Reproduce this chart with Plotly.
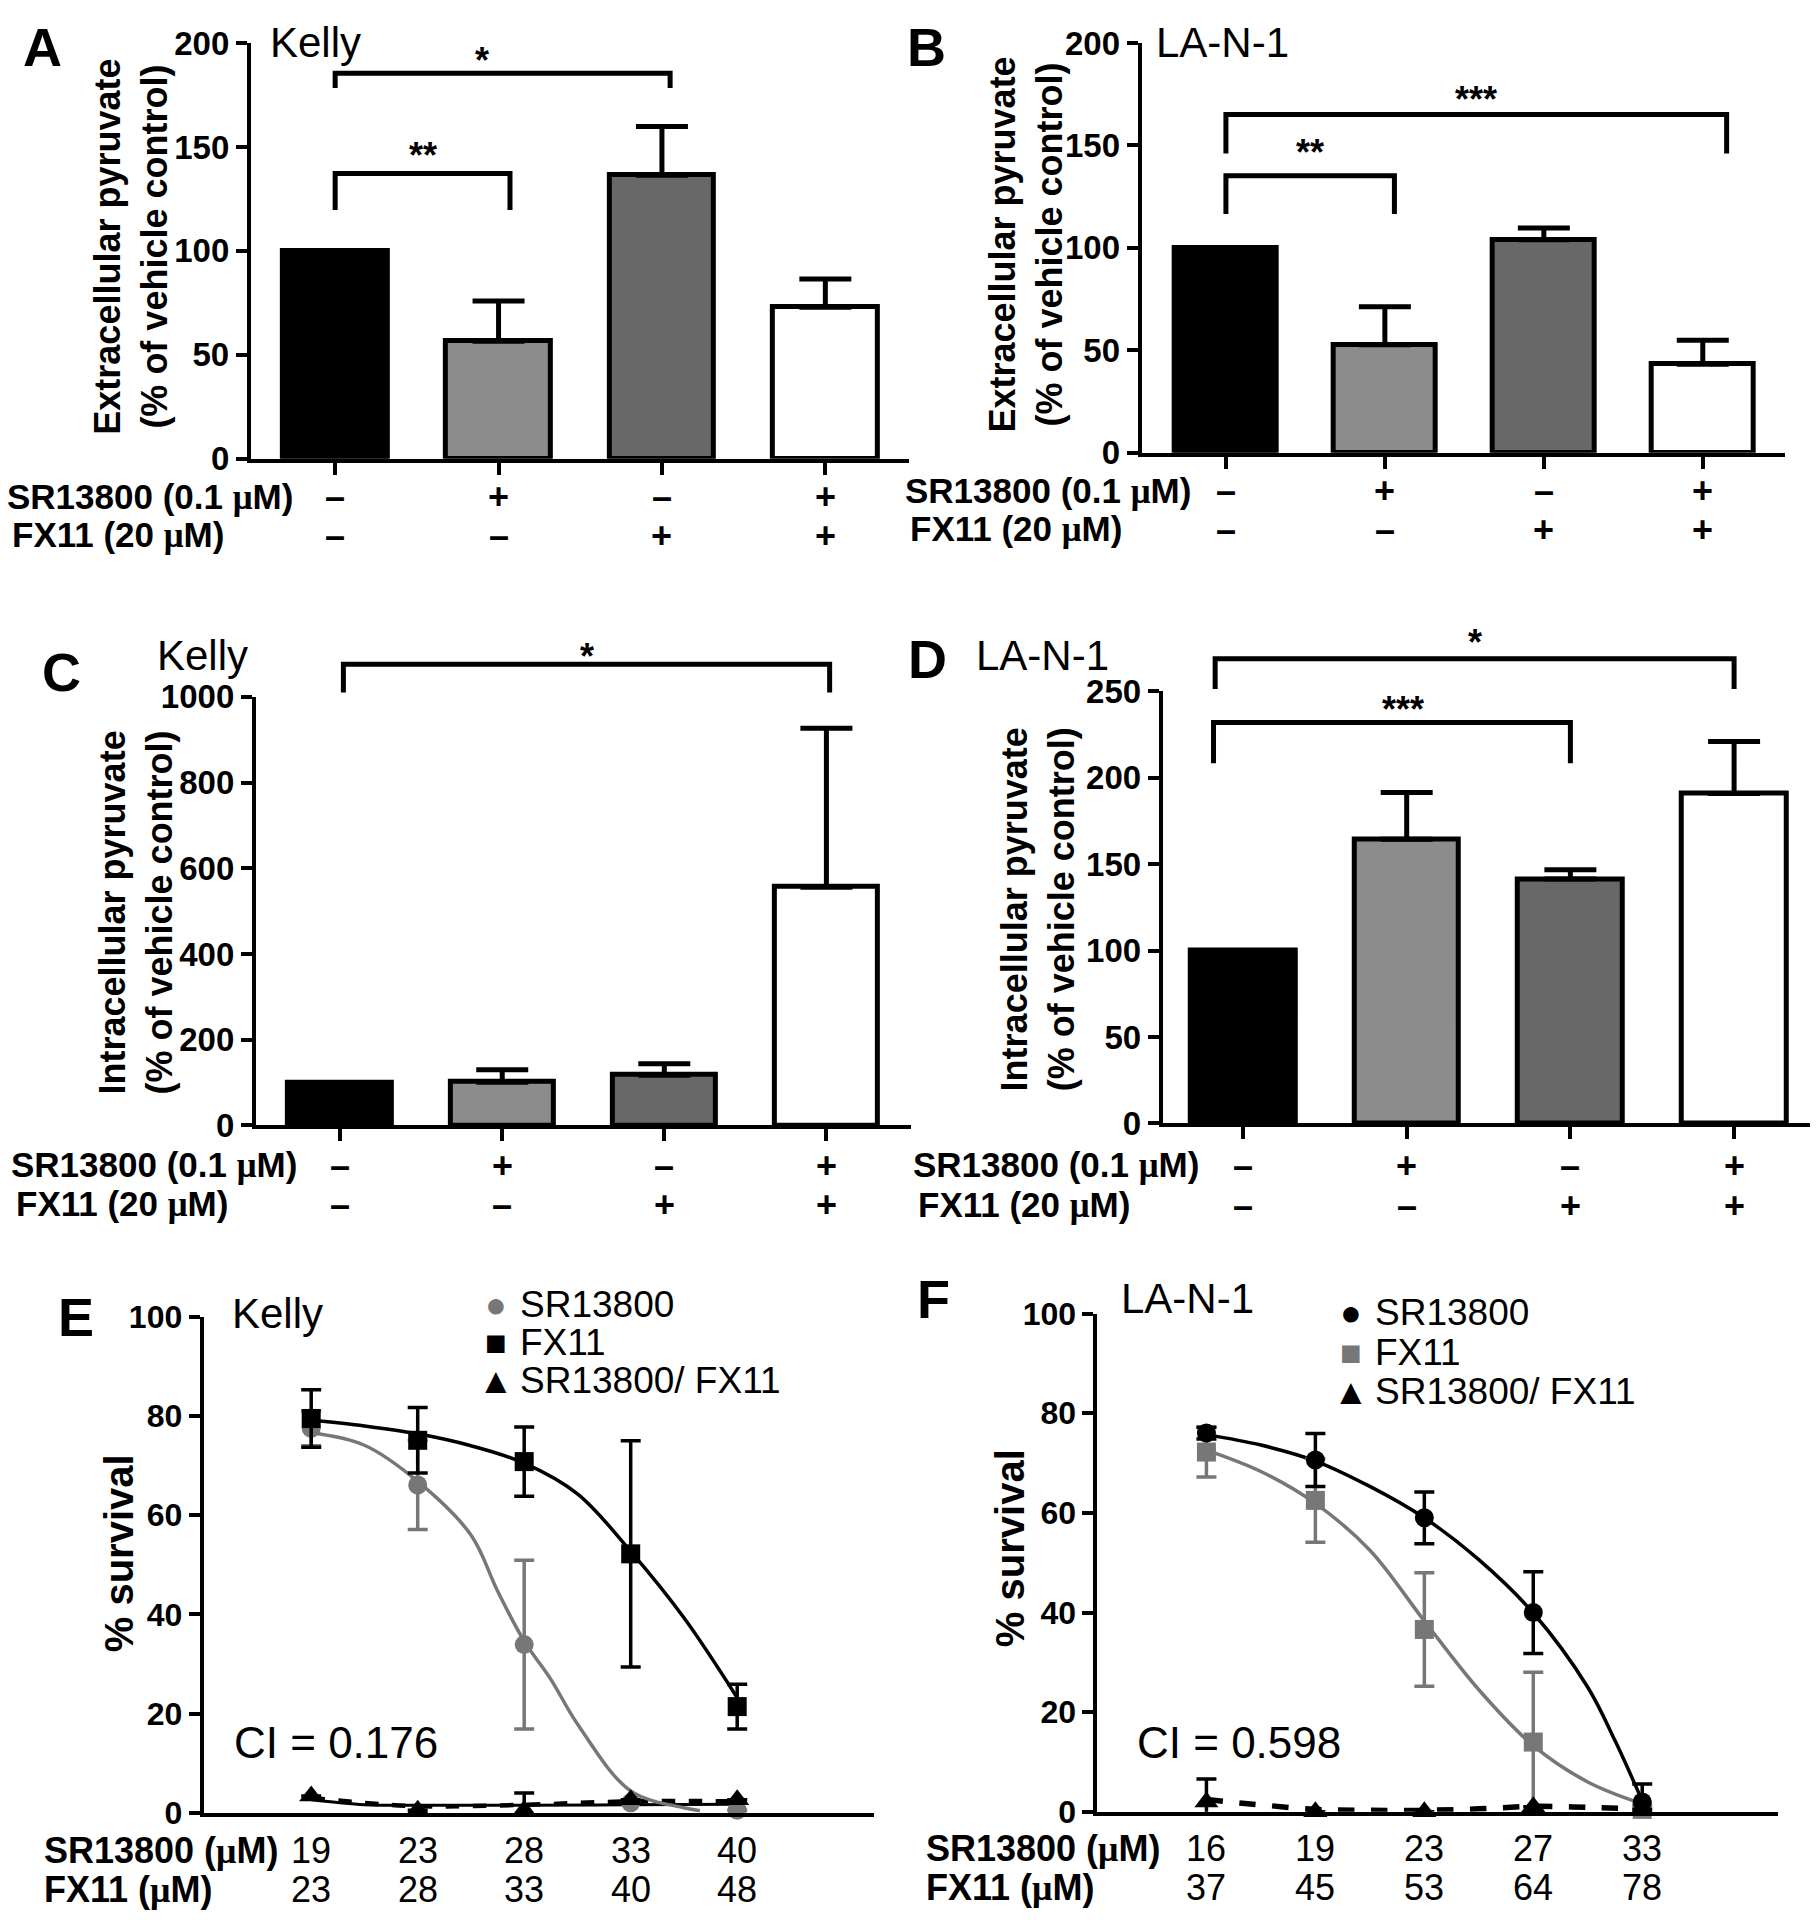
import plotly.graph_objects as go

W, H = 1818, 1920
FONT = "Liberation Sans, Arial, Helvetica, sans-serif"
MU = "<span style='font-family:Liberation Serif, Times New Roman, serif'>μ</span>"

# ---------------- data ----------------
treat_idx = [0, 1, 2, 3]
sr_signs = ["–", "+", "–", "+"]
fx_signs = ["–", "–", "+", "+"]
bar_colors = ["#000000", "#8c8c8c", "#686868", "#ffffff"]

extra_kelly = [100, 56.5, 136.4, 72.9]
extra_kelly_err = [0, 19.4, 23.4, 13.6]
extra_lan1 = [100, 52.7, 103.9, 43.2]
extra_lan1_err = [0, 18.5, 5.8, 11.7]
intra_kelly = [100, 101, 117, 556]
intra_kelly_err = [0, 29, 27, 371]
intra_lan1 = [100, 164.5, 141.4, 191]
intra_lan1_err = [0, 27, 5.4, 30]

dose_idx = [0, 1, 2, 3, 4]
kelly_sr_conc = ["19", "23", "28", "33", "40"]
kelly_fx_conc = ["23", "28", "33", "40", "48"]
lan1_sr_conc = ["16", "19", "23", "27", "33"]
lan1_fx_conc = ["37", "45", "53", "64", "78"]

kelly_sr = [77.5, 66.1, 33.9, 2.0, 0.5]
kelly_sr_sd = [3.5, 9.0, 17.0, None, None]
kelly_fx = [79.5, 75.1, 70.8, 52.2, 21.4]
kelly_fx_sd = [5.8, 6.6, 7.0, 22.8, 4.5]
kelly_combo = [3.4, 0.5, 0.5, 2.6, 2.6]
kelly_combo_sd = [None, None, 3.5, None, None]

lan1_sr = [76.0, 70.6, 59.0, 40.0, 2.0]
lan1_sr_sd = [1.2, 5.3, 5.2, 8.2, 3.6]
lan1_fx = [72.2, 62.5, 36.6, 14.0, 0.5]
lan1_fx_sd = [5.0, 8.4, 11.4, 14.0, 0.8]
lan1_combo = [2.0, 0.0, 0.0, 1.0, 0.5]
lan1_combo_sd = [4.6, None, None, None, None]

# fitted dose-response curves
kelly_sr_fit_x = [0, 0.5, 1, 1.5, 1.75, 2, 2.25, 2.5, 3, 3.5, 3.65]
kelly_sr_fit_y = [76.6, 74.1, 66.8, 56.0, 44.7, 34.6, 26.9, 17.9, 4.4, 1.0, 0.4]
kelly_fx_fit_x = [0, 0.5, 1, 1.5, 2, 2.5, 3, 3.5, 4]
kelly_fx_fit_y = [79.2, 78.0, 76.4, 74.0, 70.5, 64.3, 52.7, 39.3, 23.2]
kelly_combo_fit_x = [0, 0.5, 1, 2, 3, 4]
kelly_combo_fit_y = [3.0, 2.0, 1.3, 1.6, 2.3, 2.3]
kelly_combo_line_y = [2.6, 1.6, 1.5, 1.5, 1.6, 1.7]

lan1_sr_fit_x = [0, 0.5, 1, 1.5, 2, 2.5, 3, 3.5, 3.75, 4]
lan1_sr_fit_y = [75.7, 73.6, 70.4, 65.3, 59.0, 50.6, 39.9, 25.0, 14.3, 2.2]
lan1_fx_fit_x = [0, 0.5, 1, 1.5, 2, 2.5, 3, 3.5, 4]
lan1_fx_fit_y = [72.6, 68.3, 61.9, 52.5, 38.3, 24.5, 13.3, 6.0, 1.6]
lan1_combo_fit_x = [0, 0.25, 0.5, 1, 1.5, 2, 2.5, 3, 3.5, 4]
lan1_combo_fit_y = [2.5, 1.9, 1.4, 0.5, 0.3, 0.3, 0.6, 1.1, 0.9, 0.6]

# ---------------- geometry (target pixels on the photographed page) ----------------
# yt0 = where the reference puts the top tick; yt = what fits inside the figure
P = {
    "A": dict(n="", x0=250, x1=905, xr=(-0.516, 3.51), yb=457, yt=40, yt0=23, yr=(0, 200), tv=[0, 50, 100, 150, 200], fs=33),
    "B": dict(n="2", x0=1137, x1=1778, xr=(-0.53, 3.52), yb=451, yt=40, yt0=28, yr=(0, 200), tv=[0, 50, 100, 150, 200], fs=33),
    "C": dict(n="3", x0=255, x1=907, xr=(-0.52, 3.52), yb=1126, yt=696, yr=(0, 1000), tv=[0, 200, 400, 600, 800, 1000], fs=33),
    "D": dict(n="4", x0=1158, x1=1810, xr=(-0.49, 3.51), yb=1124, yt=690.6, yr=(0, 250), tv=[0, 50, 100, 150, 200, 250], fs=33),
    "E": dict(n="5", x0=203, x1=870, xr=(-1.01, 5.28), yb=1815.6, yt=1318, yr=(0, 100), tv=[0, 20, 40, 60, 80, 100], fs=32),
    "F": dict(n="6", x0=1093, x1=1771, xr=(-1.0, 5.25), yb=1814.7, yt=1314.7, yr=(0, 100), tv=[0, 20, 40, 60, 80, 100], fs=32),
}

# page placement of the figure as photographed (body margin / page scaling)
SX, OX = 0.9957, 8.2
SY, OY = 0.984, 22.9


def px_x(p, v):
    g = P[p]
    return g["x0"] + (v - g["xr"][0]) / (g["xr"][1] - g["xr"][0]) * (g["x1"] - g["x0"])


def px_y_ref(p, v):
    g = P[p]
    top = g.get("yt0", g["yt"])
    return g["yb"] + (v - g["yr"][0]) / (g["yr"][1] - g["yr"][0]) * (top - g["yb"])


def fx(px):
    return ((px - OX) / SX) / W


def fy(py):
    return 1 - ((py - OY) / SY) / H


fig = go.Figure()
annotations = []
shapes = []


def ann(text, x, y, size, bold=False, xanchor="center", yanchor="middle", xref="paper", color="black", angle=0):
    annotations.append(dict(
        text=text, x=x, y=y, xref=xref, yref="paper", showarrow=False,
        xanchor=xanchor, yanchor=yanchor, textangle=angle,
        font=dict(family=FONT, size=size, color=color, weight="bold" if bold else "normal"),
    ))


# ---------------- bar panels ----------------
bar_sets = [
    ("A", extra_kelly, extra_kelly_err),
    ("B", extra_lan1, extra_lan1_err),
    ("C", intra_kelly, intra_kelly_err),
    ("D", intra_lan1, intra_lan1_err),
]
for p, vals, errs in bar_sets:
    n = P[p]["n"]
    fig.add_trace(go.Bar(
        x=treat_idx, y=vals, width=0.64,
        marker=dict(color=bar_colors, line=dict(color="black", width=5)),
        error_y=dict(type="data", array=errs, arrayminus=[0] * len(errs), symmetric=False,
                     color="black", thickness=5, width=26),
        xaxis="x" + n, yaxis="y" + n, showlegend=False, hoverinfo="skip",
    ))

# significance brackets: (left idx, right idx, top value, arm value, star value, star idx, label)
brackets = {
    "A": [(0, 2.05, 178.2, 171.4, 188, 0.90, "*"), (0, 1.07, 131.8, 115, 144, None, "**")],
    "B": [(0, 1.06, 131.4, 113.2, 146, None, "**"), (0, 3.15, 160.4, 141.9, 171.5, None, "***")],
    "C": [(0.02, 3.02, 1076, 1010, 1112, None, "*")],
    "D": [(-0.17, 3.0, 269, 251.5, 283, None, "*"), (-0.18, 2.0, 232, 208.4, 244, 0.975, "***")],
}
for p, lst in brackets.items():
    for xl, xr, top, arm, star, sx, lab in lst:
        xa, xb = px_x(p, xl), px_x(p, xr)
        yt_, ya_ = px_y_ref(p, top), px_y_ref(p, arm)
        shapes.append(dict(
            type="path", xref="paper", yref="paper",
            path=f"M {fx(xa)},{fy(ya_)} L {fx(xa)},{fy(yt_)} L {fx(xb)},{fy(yt_)} L {fx(xb)},{fy(ya_)}",
            line=dict(color="black", width=5),
        ))
        xs = (xa + xb) / 2 if sx is None else px_x(p, sx)
        ann(lab, fx(xs), fy(px_y_ref(p, star) + 8), 36, bold=True)

# treatment rows
rows = {
    "A": (5, 495, 534),
    "B": (899, 489, 528),
    "C": (9, 1166, 1205),
    "D": (907, 1166, 1206),
}
for p, (lx, ysr, yfx) in rows.items():
    ann(f"SR13800 (0.1 {MU}M)", fx(lx), fy(ysr), 35, bold=True, xanchor="left")
    ann(f"FX11 (20 {MU}M)", fx(lx + 5), fy(yfx), 35, bold=True, xanchor="left")
    for i, (s1, s2) in enumerate(zip(sr_signs, fx_signs)):
        ann(s1, treat_idx[i], fy(ysr), 36, bold=True, xref="x" + P[p]["n"])
        ann(s2, treat_idx[i], fy(yfx), 36, bold=True, xref="x" + P[p]["n"])

# y-axis titles
ann("Extracellular pyruvate<br>(% of vehicle control)", fx(131), fy(244), 36, bold=True, angle=-90)
ann("Extracellular pyruvate<br>(% of vehicle control)", fx(1022), fy(242), 36, bold=True, angle=-90)
ann("Intracellular pyruvate<br>(% of vehicle control)", fx(136), fy(912), 36, bold=True, angle=-90)
ann("Intracellular pyruvate<br>(% of vehicle control)", fx(1034), fy(909), 36, bold=True, angle=-90)
ann("% survival", fx(119), fy(1555), 40, bold=True, angle=-90)
ann("% survival", fx(1006), fy(1550), 40, bold=True, angle=-90)

# panel letters and cell lines
for lab, x, y in [("A", 43, 44), ("B", 923, 44), ("C", 61, 671), ("D", 924, 658), ("E", 76, 1318), ("F", 930, 1300)]:
    ann(lab, fx(x), fy(y), 54, bold=True)
for lab, x, y in [("Kelly", 267, 39), ("LA-N-1", 1149, 39), ("Kelly", 155, 654), ("LA-N-1", 970, 655),
                  ("Kelly", 229, 1315), ("LA-N-1", 1114, 1300)]:
    ann(lab, fx(x), fy(y), 42, xanchor="left")

# ---------------- dose-response panels ----------------
GRAY = "#777777"


def curve(p, xs, ys, color, width, dash="solid"):
    n = P[p]["n"]
    fig.add_trace(go.Scatter(x=xs, y=ys, mode="lines", line=dict(color=color, width=width, shape="spline", dash=dash),
                             xaxis="x" + n, yaxis="y" + n, showlegend=False, hoverinfo="skip", cliponaxis=False))


def points(p, ys, sd, color, symbol, size):
    n = P[p]["n"]
    fig.add_trace(go.Scatter(
        x=dose_idx, y=ys, mode="markers",
        marker=dict(color=color, symbol=symbol, size=size),
        error_y=dict(type="data", array=sd, color=color, thickness=3.5, width=10),
        xaxis="x" + n, yaxis="y" + n, showlegend=False, hoverinfo="skip", cliponaxis=False,
    ))


# panel E
curve("E", kelly_combo_fit_x, kelly_combo_line_y, "black", 3)
curve("E", kelly_combo_fit_x, kelly_combo_fit_y, "black", 4.5, dash="dash")
curve("E", kelly_sr_fit_x, kelly_sr_fit_y, GRAY, 3.5)
curve("E", kelly_fx_fit_x, kelly_fx_fit_y, "black", 3.5)
points("E", kelly_sr, kelly_sr_sd, GRAY, "circle", 19)
points("E", kelly_fx, kelly_fx_sd, "black", "square", 19)
points("E", kelly_combo, kelly_combo_sd, "black", "triangle-up", 21)

# panel F
curve("F", lan1_combo_fit_x, lan1_combo_fit_y, "black", 5.5, dash="dash")
curve("F", lan1_fx_fit_x, lan1_fx_fit_y, GRAY, 3.5)
curve("F", lan1_sr_fit_x, lan1_sr_fit_y, "black", 3.5)
points("F", lan1_fx, lan1_fx_sd, GRAY, "square", 19)
points("F", lan1_sr, lan1_sr_sd, "black", "circle", 19)
points("F", lan1_combo, lan1_combo_sd, "black", "triangle-up", 21)

# legends
for (gx, tx, ys, items) in [
    (494, 516, [1306, 1344, 1382], [("●", GRAY, "SR13800"), ("■", "black", "FX11"), ("▲", "black", "SR13800/ FX11")]),
    (1345, 1367, [1314, 1354, 1393], [("●", "black", "SR13800"), ("■", GRAY, "FX11"), ("▲", "black", "SR13800/ FX11")]),
]:
    for y, (g, c, t) in zip(ys, items):
        ann(g, fx(gx), fy(y), 36, color=c)
        ann(t, fx(tx), fy(y), 37, xanchor="left")

ann("CI = 0.176", fx(231), fy(1745), 44, xanchor="left")
ann("CI = 0.598", fx(1130), fy(1745), 44, xanchor="left")

# concentration rows
for p, lx, ysr, yfx, src, fxc in [("E", 42, 1853, 1893, kelly_sr_conc, kelly_fx_conc),
                                  ("F", 920, 1851, 1891, lan1_sr_conc, lan1_fx_conc)]:
    ann(f"SR13800 ({MU}M)", fx(lx), fy(ysr), 36, bold=True, xanchor="left")
    ann(f"FX11 ({MU}M)", fx(lx), fy(yfx), 36, bold=True, xanchor="left")
    for i in range(len(dose_idx)):
        ann(src[i], dose_idx[i], fy(ysr), 36, xref="x" + P[p]["n"])
        ann(fxc[i], dose_idx[i], fy(yfx), 36, xref="x" + P[p]["n"])

# ---------------- axes ----------------
layout_axes = {}
for p, g in P.items():
    n = g["n"]
    bars = p in "ABCD"
    layout_axes["xaxis" + n] = dict(
        domain=[fx(g["x0"]), fx(g["x1"])], range=list(g["xr"]), anchor="y" + n,
        showline=True, linecolor="black", linewidth=4, showgrid=False, zeroline=False,
        ticks="outside" if bars else "", tickvals=treat_idx if bars else [], ticklen=12, tickwidth=4,
        tickcolor="black", showticklabels=False, fixedrange=True,
    )
    layout_axes["yaxis" + n] = dict(
        domain=[fy(g["yb"]), fy(g["yt"])], range=list(g["yr"]), anchor="x" + n,
        showline=True, linecolor="black", linewidth=4, showgrid=False, zeroline=False,
        ticks="outside", tickvals=g["tv"], ticklen=11, tickwidth=4, tickcolor="black",
        ticklabeloverflow="allow",
        tickfont=dict(family=FONT, size=g["fs"], color="black", weight="bold"), fixedrange=True,
    )

fig.update_layout(
    width=W, height=H, margin=dict(l=0, r=0, t=0, b=0),
    paper_bgcolor="white", plot_bgcolor="rgba(0,0,0,0)",
    showlegend=False, annotations=annotations, shapes=shapes, bargap=0,
    **layout_axes,
)

fig.write_html("out.html")
